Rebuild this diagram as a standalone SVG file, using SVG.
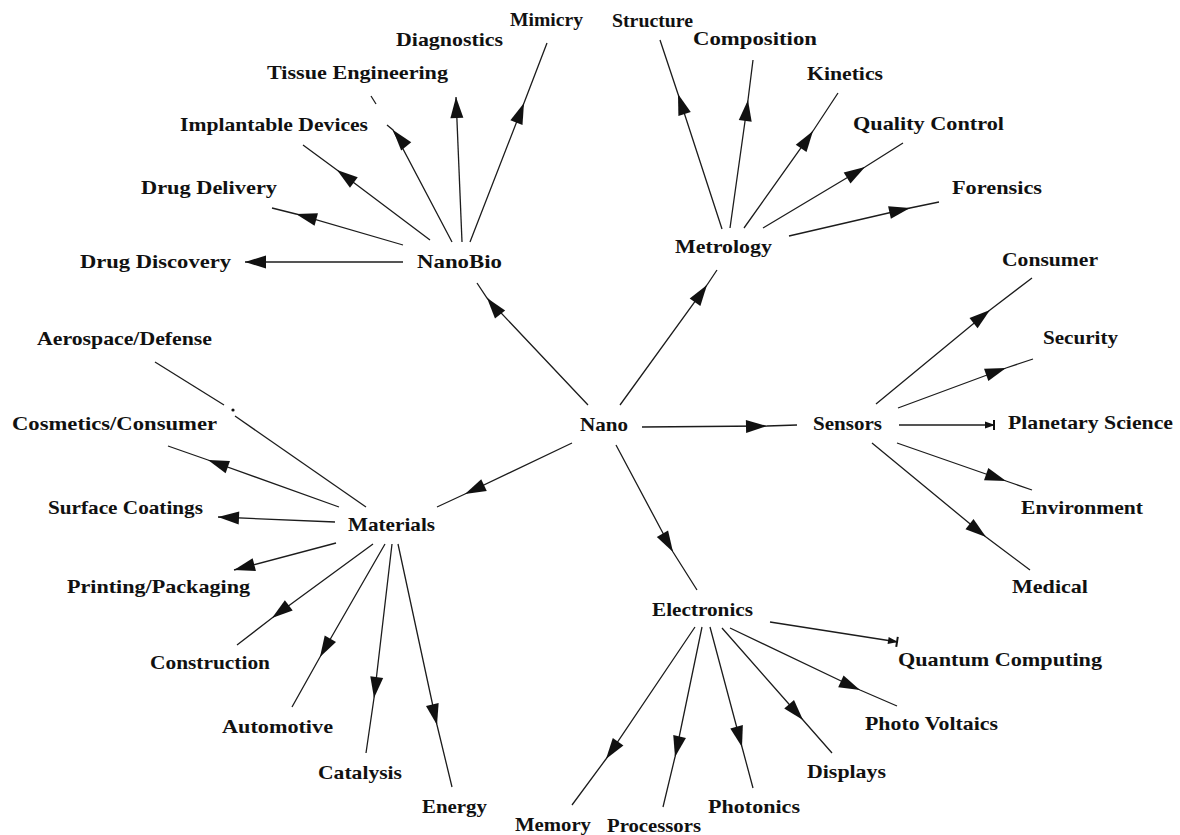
<svg xmlns="http://www.w3.org/2000/svg" width="1180" height="835" viewBox="0 0 1180 835">
  <style>
    .lbl { font-family: "Liberation Serif", "Times New Roman", serif; font-size: 19px; font-weight: bold; fill: #111; }
    .c { fill: none; stroke: #1c1c1c; stroke-width: 1.3; }
    .mid { marker-mid: url(#ah); }
    .end { marker-end: url(#ah); }
    .endS { marker-end: url(#ahS); }
  </style>
  <defs>
    <marker id="ah" viewBox="-23 -8 25 16" markerWidth="25" markerHeight="16" refX="0" refY="0" orient="auto" markerUnits="userSpaceOnUse">
      <path d="M0,0 L-21,-6.5 L-21,6.5 Z" fill="#111"/>
    </marker>
    <marker id="ahS" viewBox="-12 -7 14 14" markerWidth="14" markerHeight="14" refX="0" refY="0" orient="auto" markerUnits="userSpaceOnUse">
      <path d="M0,0 L-10,-3.5 L-10,3.5 Z" fill="#111"/>
      <path d="M-1,-5 L-1,5" stroke="#111" stroke-width="2"/>
    </marker>
  </defs>
  <rect width="1180" height="835" fill="#fff"/>

  <!-- connectors: heads sit part-way along each line -->
  <g id="connectors">
    <!-- Nano hub -->
    <polyline class="c mid" points="588,405 487,298 477,283"/>
    <polyline class="c mid" points="620,405 707,285 717,270"/>
    <polyline class="c mid" points="642,427 767,426 797,425"/>
    <polyline class="c mid" points="572,443 465,494 437,507"/>
    <polyline class="c mid" points="616,445 673,552 697,590"/>
    <!-- NanoBio -->
    <line class="c end" x1="403" y1="262" x2="245" y2="262"/>
    <polyline class="c mid" points="403,245 296,214 272,208"/>
    <polyline class="c mid" points="430,240 337,170 303,145"/>
    <polyline class="c mid" points="452,242 393,130 387,125"/>
    <line class="c" x1="371" y1="96" x2="376" y2="104"/>
    <line class="c end" x1="462" y1="242" x2="456" y2="97"/>
    <polyline class="c mid" points="470,242 524,103 547,43"/>
    <!-- Metrology -->
    <polyline class="c mid" points="722,229 678,94 660,40"/>
    <polyline class="c mid" points="730,228 748,100 753,60"/>
    <polyline class="c mid" points="744,228 813,131 838,93"/>
    <polyline class="c mid" points="763,228 865,167 903,143"/>
    <polyline class="c mid" points="789,236 910,208 939,202"/>
    <!-- Sensors -->
    <polyline class="c mid" points="876,404 990,310 1032,278"/>
    <polyline class="c mid" points="898,408 1006,368 1033,359"/>
    <line class="c endS" x1="899" y1="425" x2="995" y2="425"/>
    <polyline class="c mid" points="897,443 1006,481 1032,490"/>
    <polyline class="c mid" points="872,443 986,537 1030,570"/>
    <!-- Materials -->
    <line class="c" x1="366" y1="507" x2="235" y2="416"/>
    <circle cx="233" cy="410" r="1.6" fill="#111"/>
    <line class="c" x1="224" y1="405" x2="155" y2="362"/>
    <polyline class="c mid" points="339,507 208,460 168,446"/>
    <line class="c end" x1="335" y1="522" x2="218" y2="517"/>
    <line class="c end" x1="336" y1="543" x2="234" y2="570"/>
    <polyline class="c mid" points="373,544 272,618 237,645"/>
    <polyline class="c mid" points="385,544 320,657 292,707"/>
    <polyline class="c mid" points="392,544 374,698 366,753"/>
    <polyline class="c mid" points="398,544 437,725 452,787"/>
    <!-- Electronics -->
    <polyline class="c mid" points="695,627 606,759 572,805"/>
    <polyline class="c mid" points="702,627 675,757 663,807"/>
    <polyline class="c mid" points="710,627 742,747 753,788"/>
    <polyline class="c mid" points="722,628 803,720 832,753"/>
    <polyline class="c mid" points="730,628 860,690 897,706"/>
    <line class="c endS" x1="770" y1="622" x2="898" y2="642"/>
  </g>

  <!-- hub and branch nodes -->
  <g id="nano"><text class="lbl" x="580" y="431" textLength="48" lengthAdjust="spacingAndGlyphs">Nano</text></g>
  <g id="nanobio"><text class="lbl" x="417" y="268" textLength="85" lengthAdjust="spacingAndGlyphs">NanoBio</text></g>
  <g id="metrology"><text class="lbl" x="675" y="253" textLength="97" lengthAdjust="spacingAndGlyphs">Metrology</text></g>
  <g id="sensors"><text class="lbl" x="813" y="430" textLength="69" lengthAdjust="spacingAndGlyphs">Sensors</text></g>
  <g id="materials"><text class="lbl" x="348" y="531" textLength="87" lengthAdjust="spacingAndGlyphs">Materials</text></g>
  <g id="electronics"><text class="lbl" x="652" y="616" textLength="101" lengthAdjust="spacingAndGlyphs">Electronics</text></g>

  <!-- NanoBio leaves -->
  <g id="drug-discovery"><text class="lbl" x="80" y="268" textLength="151" lengthAdjust="spacingAndGlyphs">Drug Discovery</text></g>
  <g id="drug-delivery"><text class="lbl" x="141" y="194" textLength="136" lengthAdjust="spacingAndGlyphs">Drug Delivery</text></g>
  <g id="implantable-devices"><text class="lbl" x="180" y="131" textLength="188" lengthAdjust="spacingAndGlyphs">Implantable Devices</text></g>
  <g id="tissue-engineering"><text class="lbl" x="267" y="79" textLength="181" lengthAdjust="spacingAndGlyphs">Tissue Engineering</text></g>
  <g id="diagnostics"><text class="lbl" x="396" y="46" textLength="107" lengthAdjust="spacingAndGlyphs">Diagnostics</text></g>
  <g id="mimicry"><text class="lbl" x="510" y="26" textLength="73" lengthAdjust="spacingAndGlyphs">Mimicry</text></g>

  <!-- Metrology leaves -->
  <g id="structure"><text class="lbl" x="612" y="27" textLength="81" lengthAdjust="spacingAndGlyphs">Structure</text></g>
  <g id="composition"><text class="lbl" x="693" y="45" textLength="124" lengthAdjust="spacingAndGlyphs">Composition</text></g>
  <g id="kinetics"><text class="lbl" x="807" y="80" textLength="76" lengthAdjust="spacingAndGlyphs">Kinetics</text></g>
  <g id="quality-control"><text class="lbl" x="853" y="130" textLength="151" lengthAdjust="spacingAndGlyphs">Quality Control</text></g>
  <g id="forensics"><text class="lbl" x="952" y="194" textLength="90" lengthAdjust="spacingAndGlyphs">Forensics</text></g>

  <!-- Sensors leaves -->
  <g id="consumer"><text class="lbl" x="1002" y="266" textLength="96" lengthAdjust="spacingAndGlyphs">Consumer</text></g>
  <g id="security"><text class="lbl" x="1043" y="344" textLength="75" lengthAdjust="spacingAndGlyphs">Security</text></g>
  <g id="planetary-science"><text class="lbl" x="1008" y="429" textLength="165" lengthAdjust="spacingAndGlyphs">Planetary Science</text></g>
  <g id="environment"><text class="lbl" x="1021" y="514" textLength="122" lengthAdjust="spacingAndGlyphs">Environment</text></g>
  <g id="medical"><text class="lbl" x="1012" y="593" textLength="76" lengthAdjust="spacingAndGlyphs">Medical</text></g>

  <!-- Materials leaves -->
  <g id="aerospace-defense"><text class="lbl" x="37" y="345" textLength="175" lengthAdjust="spacingAndGlyphs">Aerospace/Defense</text></g>
  <g id="cosmetics-consumer"><text class="lbl" x="12" y="430" textLength="205" lengthAdjust="spacingAndGlyphs">Cosmetics/Consumer</text></g>
  <g id="surface-coatings"><text class="lbl" x="48" y="514" textLength="155" lengthAdjust="spacingAndGlyphs">Surface Coatings</text></g>
  <g id="printing-packaging"><text class="lbl" x="67" y="593" textLength="183" lengthAdjust="spacingAndGlyphs">Printing/Packaging</text></g>
  <g id="construction"><text class="lbl" x="150" y="669" textLength="120" lengthAdjust="spacingAndGlyphs">Construction</text></g>
  <g id="automotive"><text class="lbl" x="222" y="733" textLength="111" lengthAdjust="spacingAndGlyphs">Automotive</text></g>
  <g id="catalysis"><text class="lbl" x="318" y="779" textLength="84" lengthAdjust="spacingAndGlyphs">Catalysis</text></g>
  <g id="energy"><text class="lbl" x="422" y="813" textLength="65" lengthAdjust="spacingAndGlyphs">Energy</text></g>

  <!-- Electronics leaves -->
  <g id="quantum-computing"><text class="lbl" x="898" y="666" textLength="204" lengthAdjust="spacingAndGlyphs">Quantum Computing</text></g>
  <g id="photo-voltaics"><text class="lbl" x="865" y="730" textLength="133" lengthAdjust="spacingAndGlyphs">Photo Voltaics</text></g>
  <g id="displays"><text class="lbl" x="807" y="778" textLength="79" lengthAdjust="spacingAndGlyphs">Displays</text></g>
  <g id="photonics"><text class="lbl" x="708" y="813" textLength="92" lengthAdjust="spacingAndGlyphs">Photonics</text></g>
  <g id="memory"><text class="lbl" x="515" y="831" textLength="76" lengthAdjust="spacingAndGlyphs">Memory</text></g>
  <g id="processors"><text class="lbl" x="607" y="832" textLength="94" lengthAdjust="spacingAndGlyphs">Processors</text></g>
</svg>
